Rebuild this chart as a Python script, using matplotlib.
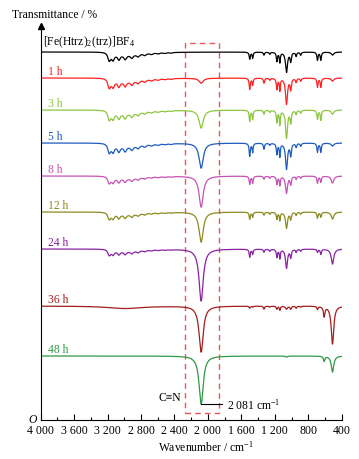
"""
FT-IR spectra of [Fe(Htrz)2(trz)]BF4 after different times
"""
import numpy as np
import matplotlib
matplotlib.use("Agg")
import matplotlib.pyplot as plt

plt.rcParams['font.family'] = ['Liberation Serif', 'DejaVu Serif']
plt.rcParams['mathtext.fontset'] = 'custom'
plt.rcParams['mathtext.rm'] = 'Liberation Serif'
plt.rcParams['mathtext.it'] = 'Liberation Serif:italic'

# series
labels = [r'[Fe(Htrz)$_2$(trz)]BF$_4$', '1 h', '3 h', '5 h', '8 h', '12 h', '24 h', '36 h', '48 h']
colors = ['#000000', '#ff2020', '#8cc63e', '#1f5bbf', '#c653b5',
          '#8c8a1e', '#8a22a2', '#a31d1d', '#2e9a44']

# N-H / C-H stretching region: trough positions (cm-1), relative depth, depth per series
nh_pos = [3180, 3135, 3065, 2990, 2910, 2835, 2755, 2675, 2595, 2515, 2440]
nh_rel = [1.0, 0.85, 0.75, 0.65, 0.5, 0.38, 0.28, 0.2, 0.16, 0.12, 0.1]
nh_depth = [7, 8, 8, 8, 6, 6, 5, 0, 0]
# broad envelope under the wiggles
nh_env_pos = 2960
nh_env_depth = [2.5, 3, 3, 3, 2, 2, 2, 0, 0]

# broad shallow band (only 36 h)
broad_pos = 2990
broad_depth = [0, 0, 0, 0, 0, 0, 0, 2.5, 0]

# C#N band and fingerprint bands (cm-1), half widths and depth per series
fp_pos = [2081, 1500, 1465, 1330, 1260, 1175, 1140, 1060, 1010, 945, 890, 690, 650, 610, 510]
fp_hw = [30, 8, 7, 8, 8, 8, 7, 14, 9, 8, 8, 8, 8, 10, 18]
fp_depth = [
    [0, 7, 6, 3, 2, 9, 10, 20, 9, 4, 3, 8, 8, 0, 3],
    [5, 11, 7, 5, 2, 11, 12, 26, 11, 4, 3, 9, 9, 0, 3],
    [18, 11, 9, 4, 2, 12, 14, 28, 12, 4, 3, 9, 10, 0, 4],
    [25, 13, 9, 6, 2, 11, 13, 26, 12, 4, 3, 9, 9, 0, 3],
    [31, 8, 7, 3, 2, 8, 9, 17, 8, 3, 2, 7, 6, 0, 7],
    [30, 7, 5, 3, 2, 7, 8, 16, 7, 3, 2, 6, 5, 0, 7],
    [52, 8, 5, 3, 2, 8, 9, 19, 8, 3, 2, 3, 5, 0, 15],
    [46, 2, 1, 3, 1, 3, 4, 3, 3, 2, 1, 3, 0, 10, 38],
    [48, 0, 0, 0, 0, 0, 0, 1, 0, 0, 0, 0, 0, 5, 16],
]

xticks = list(range(4000, 399, -400))

# vertical offsets of the stacked traces
offsets = [368, 342, 310, 277, 244, 208, 171, 114, 64]


def lorentz(x, c, w):
    return 1.0 / (1.0 + ((x - c) / w) ** 2)


fig = plt.figure(figsize=(3.59, 4.6), dpi=100)
ax = fig.add_axes([40.7 / 359, 39 / 460, 301 / 359, 394 / 460])

wn = np.linspace(4000, 400, 3601)
for i, (lab, col, off) in enumerate(zip(labels, colors, offsets)):
    y = np.full_like(wn, float(off))
    for c, r in zip(nh_pos, nh_rel):
        y -= nh_depth[i] * r * lorentz(wn, c, 20)
    # envelope only below the 3200 cm-1 edge
    env = nh_env_depth[i] * lorentz(wn, nh_env_pos, 220)
    env[wn > 3190] *= lorentz(wn[wn > 3190], 3190, 12)
    y -= env
    y -= broad_depth[i] * lorentz(wn, broad_pos, 250)
    for c, w, d in zip(fp_pos, fp_hw, fp_depth[i]):
        y -= d * lorentz(wn, c, w)
    ax.plot(wn, y, color=col, lw=0.9)
    if i == 0:
        ax.text(3975, off + 8, lab, color=col, fontsize=8.4, va='baseline')
    else:
        ax.text(3910, off + 4, lab, color=col, fontsize=8.4, va='baseline')

# dashed box round the C#N band
ax.add_patch(plt.Rectangle((2274, 7), 1867 - 2274, 370, fill=False,
                           ec='#ee5555', lw=1.0, ls=(0, (4, 3))))
ax.plot([2081, 1835], [16, 16], color='k', lw=0.8)
ax.text(1775, 16, '2 081 cm$^{-1}$', fontsize=8.4, va='center')
ax.text(2320, 23, 'C≡N', fontsize=8.4, ha='right', va='center')

ax.set_xlim(4000, 400)
ax.set_ylim(0, 394)
ax.set_xticks(xticks)
ax.set_xticklabels([f"{v:,}".replace(',', ' ') for v in xticks])
ax.set_xticks(list(range(3800, 400, -400)), minor=True)
ax.set_yticks([])
ax.tick_params(axis='x', which='major', direction='in', length=4, width=0.8,
               labelsize=8.5, pad=3)
ax.tick_params(axis='x', which='minor', direction='in', length=2.5, width=0.8)
for s in ['top', 'right']:
    ax.spines[s].set_visible(False)
for s in ['left', 'bottom']:
    ax.spines[s].set_linewidth(0.8)
ax.plot(0, 1, marker='^', ms=4.5, color='k', transform=ax.transAxes, clip_on=False)

fig.text(206 / 359, 1 - 447 / 460, 'Wavenumber / cm$^{-1}$', ha='center', va='center', fontsize=8.4)
fig.text(12 / 359, 1 - 15 / 460, 'Transmittance / %', ha='left', va='center', fontsize=8.4)
fig.text(37 / 359, 1 - 420 / 460, 'O', ha='right', va='center', style='italic', fontsize=8.4)

fig.savefig('out.png', dpi=100)
